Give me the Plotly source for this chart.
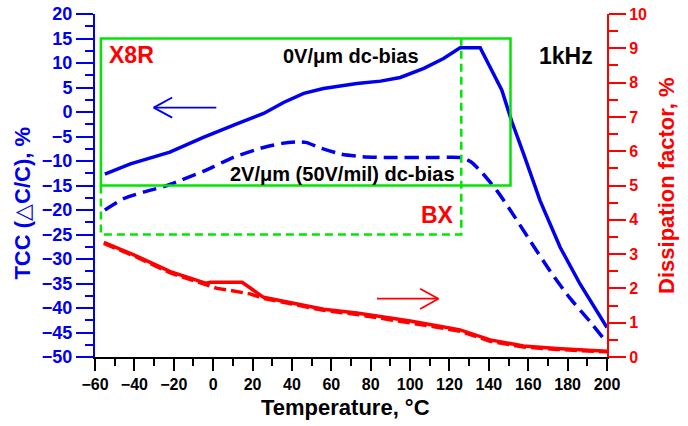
import plotly.graph_objects as go

# ---- data ----
T_0v = [-55, -42, -22, -5, 12, 25.6, 36, 46, 56, 73, 85, 95, 107, 117, 125.4, 135.6, 146.6, 151.7, 157.6, 166, 176.2, 186.3, 200]
tcc_0v = [-12.7, -10.6, -8.2, -5.2, -2.4, -0.3, 2.0, 3.8, 4.8, 5.8, 6.3, 7.05, 8.9, 10.9, 13.1, 13.1, 4.45, -2.0, -8.5, -18.1, -27.6, -35.1, -44.0]

T_2v = [-55, -45, -35, -23.4, -5, 0, 10, 25, 35, 42, 47, 55, 65, 75, 90, 110, 126, 131, 137, 144, 151, 161, 171, 181, 191, 200]
tcc_2v = [-20, -17.6, -16.3, -15.0, -12.1, -11.2, -9.3, -7.3, -6.4, -6.1, -6.2, -7.4, -8.6, -9.1, -9.3, -9.3, -9.3, -10.2, -12.6, -16, -20.1, -26.3, -32.4, -37.9, -42.6, -47.1]

T_df0 = [-55.5, -40.3, -21.7, -3.9, -1.4, 14.7, 25.6, 39.2, 56.1, 73, 84.9, 100.1, 113.6, 125.4, 140.7, 157.6, 174.5, 200]
df_0v = [3.34, 2.98, 2.49, 2.15, 2.18, 2.18, 1.74, 1.59, 1.39, 1.28, 1.18, 1.05, 0.91, 0.79, 0.50, 0.32, 0.25, 0.17]

T_df2 = [-55.5, -40.3, -21.7, -3.9, 2, 8.7, 18.7, 25.6, 39.2, 56.1, 73, 84.9, 100.1, 113.6, 125.4, 140.7, 157.6, 174.5, 200]
df_2v = [3.31, 2.95, 2.45, 2.11, 2.0, 1.94, 1.84, 1.71, 1.56, 1.36, 1.24, 1.13, 1.01, 0.87, 0.75, 0.46, 0.29, 0.22, 0.15]

# spec boxes (temperature, TCC)
x8r_T = [-57, 151]
x8r_tcc = [-15, 15]
bx_T = [-57, 126]
bx_tcc = [-25, -15, 15]

# arrows: (tail, tip, head) in data units
blue_arrow_T = [1.6, -30.2, -20.8]
blue_arrow_y = [0.9, 2.95, -1.15]
red_arrow_T = [83.2, 114.4, 105.1]
red_arrow_y = [1.70, 1.99, 1.40]

BLUE = "#0000ee"
RED = "#ff0000"
GREEN = "#00e600"
FONT = "Liberation Sans, Arial, sans-serif"

fig = go.Figure()

fig.add_trace(go.Scatter(x=T_0v, y=tcc_0v, mode="lines",
                         line=dict(color=BLUE, width=3.5), yaxis="y", showlegend=False))
fig.add_trace(go.Scatter(x=T_2v, y=tcc_2v, mode="lines",
                         line=dict(color=BLUE, width=3.5, dash="14px,7px", shape="spline", smoothing=0.6),
                         yaxis="y", showlegend=False))
fig.add_trace(go.Scatter(x=T_df2, y=df_2v, mode="lines",
                         line=dict(color=RED, width=3.5, dash="12px,5px"), yaxis="y2", showlegend=False))
fig.add_trace(go.Scatter(x=T_df0, y=df_0v, mode="lines",
                         line=dict(color=RED, width=3.5), yaxis="y2", showlegend=False))

shapes = []
# X8R solid box
shapes.append(dict(type="rect", xref="x", yref="y", x0=x8r_T[0], x1=x8r_T[1],
                   y0=x8r_tcc[0], y1=x8r_tcc[1], line=dict(color=GREEN, width=2.5)))
# BX dashed box (open path)
bx_path = (f"M {bx_T[0]},{bx_tcc[1]} L {bx_T[0]},{bx_tcc[0]} "
           f"L {bx_T[1]},{bx_tcc[0]} L {bx_T[1]},{bx_tcc[2]}")
shapes.append(dict(type="path", xref="x", yref="y", path=bx_path,
                   line=dict(color=GREEN, width=2.5, dash="8px,5px")))
# blue arrow
shapes.append(dict(type="line", xref="x", yref="y", x0=blue_arrow_T[0], y0=blue_arrow_y[0],
                   x1=blue_arrow_T[1], y1=blue_arrow_y[0], line=dict(color=BLUE, width=1.8)))
for yy in blue_arrow_y[1:]:
    shapes.append(dict(type="line", xref="x", yref="y", x0=blue_arrow_T[1], y0=blue_arrow_y[0],
                       x1=blue_arrow_T[2], y1=yy, line=dict(color=BLUE, width=1.8)))
# red arrow
shapes.append(dict(type="line", xref="x", yref="y2", x0=red_arrow_T[0], y0=red_arrow_y[0],
                   x1=red_arrow_T[1], y1=red_arrow_y[0], line=dict(color=RED, width=1.8)))
for yy in red_arrow_y[1:]:
    shapes.append(dict(type="line", xref="x", yref="y2", x0=red_arrow_T[1], y0=red_arrow_y[0],
                       x1=red_arrow_T[2], y1=yy, line=dict(color=RED, width=1.8)))

def ann(text, x, y, size, color, **kw):
    d = dict(text=text, x=x, y=y, xref="paper", yref="paper", showarrow=False,
             font=dict(family=FONT, size=size, color=color, weight="bold"),
             xanchor="center", yanchor="middle")
    d.update(kw)
    return d

W, H = 688, 426
L, R, Tm, B = 94.5, 607, 14, 357   # plot area on screen
def px(xp):
    return (xp - L) / (R - L)
def py(yp):
    return (B - yp) / (B - Tm)

annotations = [
    ann("X8R", px(131), py(55), 23, RED),
    ann("0V/μm dc-bias", px(351), py(56), 20, "black"),
    ann("2V/μm (50V/mil) dc-bias", px(342), py(174), 20, "black"),
    ann("BX", px(437), py(215), 23, RED),
    ann("1kHz", px(566), py(56), 23, "black"),
    ann("TCC (<span style='font-weight:normal'>△</span>C/C), %", px(22), py(203), 22, BLUE, textangle=-90),
    ann("Dissipation factor, %", px(666), py(186), 22, RED, textangle=-90),
    ann("Temperature, °C", px(345), py(407), 22, "black"),
]

tickfont = lambda c, s=16: dict(family=FONT, size=s, color=c, weight="bold")

fig.update_layout(
    width=W, height=H,
    margin=dict(l=L, r=W - R, t=Tm, b=H - B, pad=0, autoexpand=False),
    paper_bgcolor="white", plot_bgcolor="white",
    shapes=shapes, annotations=annotations,
    xaxis=dict(range=[-60, 200], dtick=20, tick0=-60, showgrid=False, zeroline=False,
               automargin=False,
               showline=True, linecolor="black", linewidth=2,
               ticks="outside", ticklen=12, tickwidth=2, tickcolor="black",
               minor=dict(dtick=10, ticks="outside", ticklen=7, tickwidth=2, tickcolor="black"),
               tickfont=tickfont("black"), ticklabeloverflow="allow"),
    yaxis=dict(range=[-50, 20], dtick=5, showgrid=False, zeroline=False,
               automargin=False,
               showline=True, linecolor=BLUE, linewidth=2,
               ticks="outside", ticklen=17, tickwidth=2, tickcolor=BLUE,
               minor=dict(dtick=2.5, ticks="outside", ticklen=8, tickwidth=2, tickcolor=BLUE),
               tickfont=tickfont(BLUE, 18), ticklabeloverflow="allow"),
    yaxis2=dict(range=[0, 10], dtick=1, overlaying="y", side="right", showgrid=False, zeroline=False,
                automargin=False,
                showline=True, linecolor=RED, linewidth=2,
                ticks="outside", ticklen=17, tickwidth=2, tickcolor=RED,
                minor=dict(dtick=0.5, ticks="outside", ticklen=9, tickwidth=2, tickcolor=RED),
                tickfont=tickfont(RED), ticklabeloverflow="allow"),
)

fig.write_html("out.html", config={"displayModeBar": False},
               post_script="document.body.style.margin='0px';")
